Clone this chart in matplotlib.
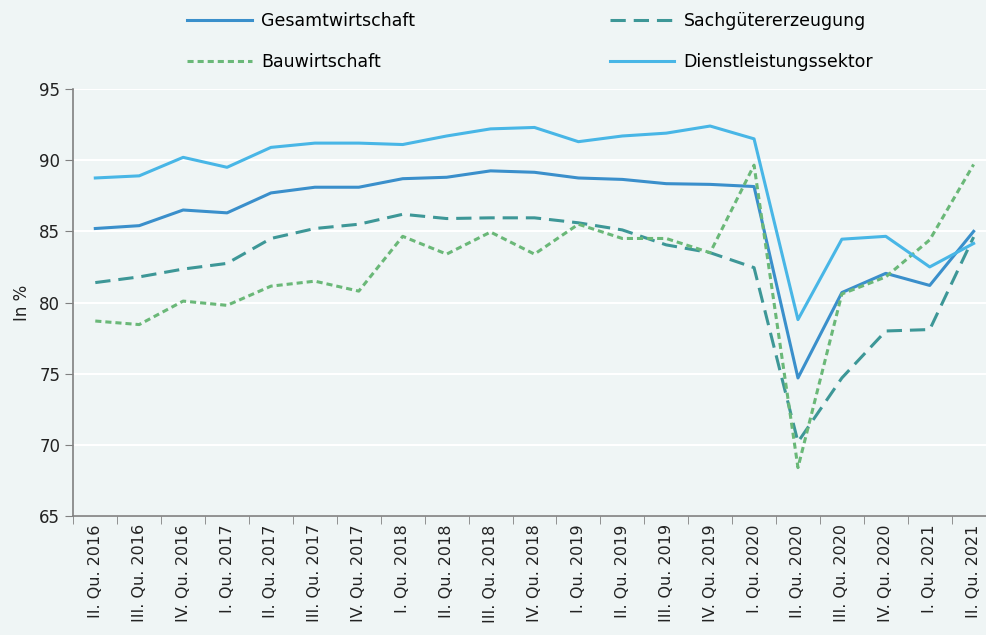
import numpy as np
import matplotlib.pyplot as plt

quarters = ['II. Qu. 2016', 'III. Qu. 2016', 'IV. Qu. 2016',
            'I. Qu. 2017', 'II. Qu. 2017', 'III. Qu. 2017', 'IV. Qu. 2017',
            'I. Qu. 2018', 'II. Qu. 2018', 'III. Qu. 2018', 'IV. Qu. 2018',
            'I. Qu. 2019', 'II. Qu. 2019', 'III. Qu. 2019', 'IV. Qu. 2019',
            'I. Qu. 2020', 'II. Qu. 2020', 'III. Qu. 2020', 'IV. Qu. 2020',
            'I. Qu. 2021', 'II. Qu. 2021']

gesamt = [85.2, 85.4, 86.5, 86.3, 87.7, 88.1, 88.1, 88.7, 88.8, 89.25,
          89.15, 88.75, 88.65, 88.35, 88.3, 88.15, 74.7, 80.7, 82.05, 81.2, 85.0]
sachgueter = [81.4, 81.8, 82.35, 82.75, 84.5, 85.2, 85.5, 86.2, 85.9, 85.95,
              85.95, 85.6, 85.1, 84.05, 83.5, 82.45, 70.2, 74.7, 78.0, 78.1, 84.6]
bau = [78.7, 78.45, 80.1, 79.8, 81.15, 81.5, 80.8, 84.65, 83.4, 84.95,
       83.4, 85.5, 84.5, 84.5, 83.5, 89.65, 68.4, 80.6, 81.8, 84.4, 89.7]
dienst = [88.75, 88.9, 90.2, 89.5, 90.9, 91.2, 91.2, 91.1, 91.7, 92.2,
          92.3, 91.3, 91.7, 91.9, 92.4, 91.5, 78.8, 84.45, 84.65, 82.5, 84.15]

bg = '#eff5f5'
fig = plt.figure(figsize=(9.87, 6.35), dpi=100, facecolor=bg)
ax = fig.add_axes([0.0743, 0.1874, 0.9344, 0.6724], facecolor=bg)

x = np.arange(len(quarters))
lw = 2.2
l1, = ax.plot(x, gesamt, color='#3a8fcb', lw=lw, label='Gesamtwirtschaft')
l2, = ax.plot(x, sachgueter, color='#3d9797', lw=lw, dashes=(5, 2.6), label='Sachgütererzeugung')
l3, = ax.plot(x, bau, color='#6ab878', lw=lw, dashes=(2, 1.3), label='Bauwirtschaft')
l4, = ax.plot(x, dienst, color='#48b6e6', lw=lw, label='Dienstleistungssektor')

ax.set_xlim(-0.5, len(quarters) - 0.5)
ax.set_ylim(65, 95)
ax.set_yticks(range(65, 96, 5))
ax.set_xticks(x)
ax.set_xticklabels(quarters, rotation=90, fontsize=11.5, color='#222222')
ax.set_xticks(np.arange(-0.5, len(quarters), 1), minor=True)
ax.tick_params(axis='x', which='major', length=0, pad=6)
ax.tick_params(axis='x', which='minor', length=6, color='#808080')
ax.tick_params(axis='y', length=6, color='#808080', labelsize=12, labelcolor='#222222')

ax.grid(axis='y', color='white', lw=1.5)
ax.set_axisbelow(True)
for s in ['top', 'right']:
    ax.spines[s].set_visible(False)
for s in ['left', 'bottom']:
    ax.spines[s].set_color('#808080')
    ax.spines[s].set_linewidth(1.2)

ax.set_ylabel('In %', fontsize=12, color='#222222', labelpad=6)

# column-wise fill: Gesamt/Bau left, Sachgueter/Dienst right
fig.legend([l1, l3, l2, l4], [l.get_label() for l in (l1, l3, l2, l4)],
           loc='upper left', bbox_to_anchor=(0.174, 1.006), ncol=2, frameon=False,
           fontsize=12.5, handlelength=3.7, columnspacing=11.2, labelspacing=1.35,
           handletextpad=0.55)

plt.savefig('out.png', dpi=100, facecolor=bg)
